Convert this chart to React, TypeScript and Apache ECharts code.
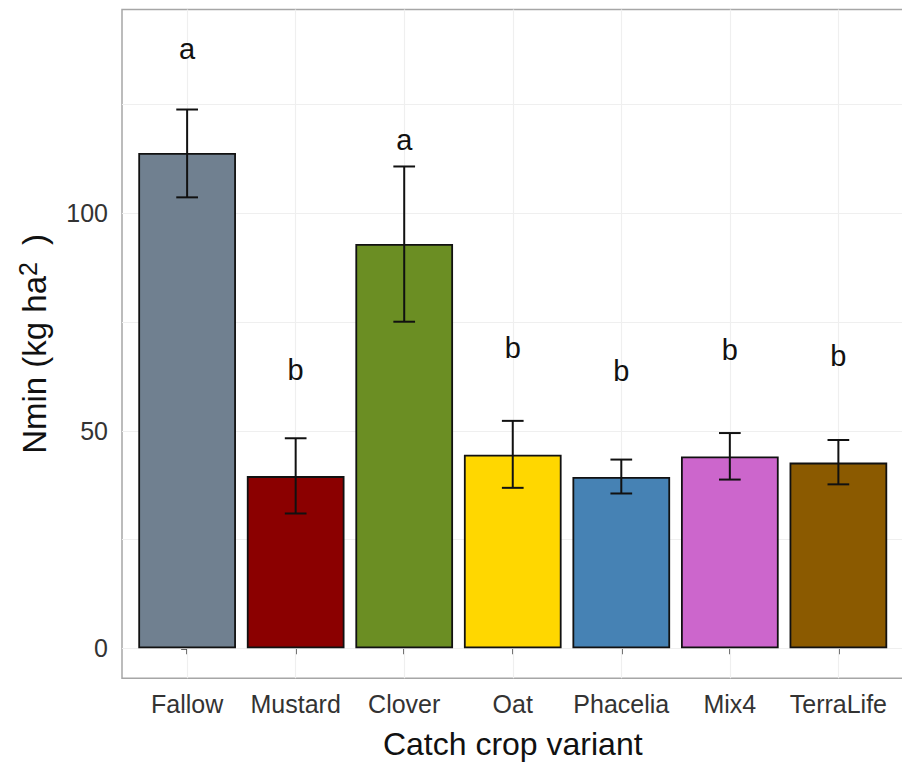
import React, { useEffect, useRef } from "react";
import * as echarts from "echarts";

const categories = ["Fallow", "Mustard", "Clover", "Oat", "Phacelia", "Mix4", "TerraLife"];
const means = [113.9, 39.6, 93.0, 44.5, 39.4, 44.1, 42.7];
const lowerErr = [103.7, 31.0, 75.1, 36.9, 35.6, 38.8, 37.7];
const upperErr = [123.9, 48.3, 110.8, 52.3, 43.4, 49.5, 47.9];
const letters = ["a", "b", "a", "b", "b", "b", "b"];
const letterY = [137.9, 64.1, 116.9, 69.1, 63.8, 68.7, 67.2];
const barColors = ["#708090", "#8B0000", "#6B8E23", "#FFD700", "#4682B4", "#CC66CC", "#8B5A00"];
const yTickValues = [0, 50, 100];
const yGridValues = [0, 25, 50, 75, 100, 125];
const xTickValues = [0, 1, 2, 3, 4, 5, 6];

const FONT = "Liberation Sans, Arial, sans-serif";

export default function App() {
  const ref = useRef<HTMLDivElement>(null);
  useEffect(() => {
    if (!ref.current) return;
    const chart = echarts.init(ref.current, null, { renderer: "svg" });
    const option: any = {
      animation: false,
      backgroundColor: "#ffffff",
      textStyle: { fontFamily: FONT },
      grid: {
        left: 122,
        top: 9.5,
        right: -1.5,
        bottom: 86.7,
        show: true,
        borderColor: "#a6a6a6",
        borderWidth: 1.5,
        backgroundColor: "transparent",
        outerBoundsMode: "none",
      },
      xAxis: {
        type: "value",
        min: -0.6,
        max: 6.6,
        name: "Catch crop variant",
        nameLocation: "middle",
        nameGap: 50,
        nameTextStyle: { fontSize: 32, color: "#111", fontFamily: FONT },
        axisLine: { show: false },
        splitLine: { show: false },
        axisTick: {
          show: true,
          customValues: xTickValues,
          length: 6,
          lineStyle: { color: "#333", width: 1.5 },
        },
        axisLabel: {
          customValues: xTickValues,
          formatter: (v: number) => categories[Math.round(v)] ?? "",
          fontSize: 25,
          color: "#333",
          margin: 13,
          fontFamily: FONT,
        },
      },
      yAxis: {
        type: "value",
        min: -6.9,
        max: 146.9,
        name: "Nmin (kg ha{sup|2}{close| )}",
        nameLocation: "middle",
        nameGap: 68,
        nameRotate: 90,
        nameTextStyle: {
          fontSize: 33,
          color: "#111",
          fontFamily: FONT,
          rich: {
            sup: { fontSize: 25, verticalAlign: "top", color: "#111", fontFamily: FONT, padding: [0, 8, 14, 0] },
            close: { fontSize: 33, color: "#111", fontFamily: FONT },
          },
        },
        axisLine: { show: false },
        splitLine: { show: false },
        axisTick: {
          show: true,
          customValues: yTickValues,
          length: 6,
          lineStyle: { color: "#333", width: 1.5 },
        },
        axisLabel: {
          customValues: yTickValues,
          fontSize: 25,
          color: "#333",
          margin: 14,
          fontFamily: FONT,
        },
      },
      series: [
        {
          type: "bar",
          z: 2,
          barWidth: "90%",
          data: means.map((v, i) => ({
            value: [i, v],
            itemStyle: { color: barColors[i] },
          })),
          itemStyle: { borderColor: "#111", borderWidth: 1.8 },
          markLine: {
            silent: true,
            z: 1,
            symbol: ["none", "none"],
            label: { show: false },
            lineStyle: { color: "#efefef", type: "solid", width: 1.2 },
            data: [
              ...yGridValues.map((v) => ({ yAxis: v })),
              ...xTickValues.map((v) => ({ xAxis: v })),
            ],
          },
        },
        {
          type: "custom",
          z: 3,
          data: categories.map((_, i) => [i, lowerErr[i], upperErr[i]]),
          renderItem: (params: any, api: any) => {
            const x = api.value(0);
            const lo = api.value(1);
            const hi = api.value(2);
            const pHi = api.coord([x, hi]);
            const pLo = api.coord([x, lo]);
            const half = api.size([0.2, 0])[0] / 2;
            const style = { stroke: "#111", lineWidth: 2 };
            return {
              type: "group",
              children: [
                { type: "line", shape: { x1: pHi[0], y1: pHi[1], x2: pLo[0], y2: pLo[1] }, style },
                { type: "line", shape: { x1: pHi[0] - half, y1: pHi[1], x2: pHi[0] + half, y2: pHi[1] }, style },
                { type: "line", shape: { x1: pLo[0] - half, y1: pLo[1], x2: pLo[0] + half, y2: pLo[1] }, style },
              ],
            };
          },
        },
        {
          type: "custom",
          z: 4,
          data: categories.map((_, i) => [i, letterY[i]]),
          renderItem: (params: any, api: any) => {
            const p = api.coord([api.value(0), api.value(1)]);
            return {
              type: "text",
              x: p[0],
              y: p[1],
              style: {
                text: letters[params.dataIndex],
                fontSize: 29,
                fontFamily: FONT,
                fill: "#111",
                align: "center",
                verticalAlign: "middle",
                textAlign: "center",
                textVerticalAlign: "middle",
              },
            };
          },
        },
      ],
    };
    chart.setOption(option);
    return () => chart.dispose();
  }, []);
  return (
    <div
      ref={ref}
      style={{ position: "fixed", left: 0, top: 0, width: 902, height: 765, background: "#fff" }}
    />
  );
}
